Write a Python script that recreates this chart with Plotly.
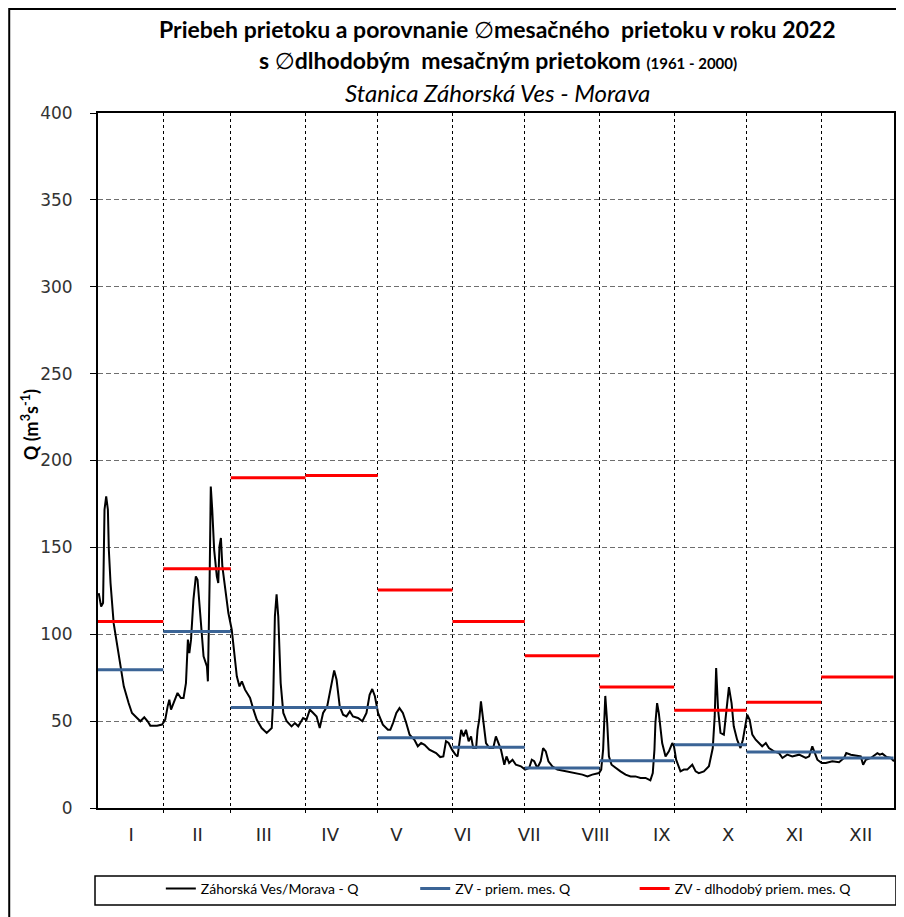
import plotly.graph_objects as go

# ---------------- data ----------------
month_labels = ["I", "II", "III", "IV", "V", "VI", "VII", "VIII", "IX", "X", "XI", "XII"]
# month boundaries in day-of-year (0 = 1 Jan 00:00)
month_edges = [0, 31, 59, 90, 120, 151, 181, 212, 243, 273, 304, 334, 365]
# 2022 monthly mean discharge (December lies outside the shown axis range)
q_month_2022 = [79.6, 101.6, 57.9, 57.9, 40.4, 34.9, 23.0, 27.2, 36.4, 32.2, 28.8, None]
# long-term (1961-2000) monthly mean discharge
q_month_longterm = [107.4, 137.7, 190.1, 191.4, 125.5, 107.4, 87.6, 69.6, 56.2, 60.8, 75.4, None]

# daily discharge readings (day-of-year, m3/s)
flow_day = [4.2, 5.2, 6.0, 6.6, 7.3, 8.0, 8.4, 9.1, 10.4, 12.5, 14.6, 16.6, 18.0, 20.1, 21.5, 23.1, 24.5,
            25.6, 28.4, 30.5, 31.8, 32.8, 33.5, 34.2, 36.0, 36.9, 38.3, 39.4, 40.4, 40.8, 41.2, 41.8, 42.5,
            43.5, 44.5, 45.2, 46.3, 47.7, 49.1, 49.5, 50.2, 50.7, 51.3, 52.1, 53.2, 53.8, 54.3, 54.9, 55.5,
            56.6, 58.0, 59.4, 60.4, 61.5, 62.6, 63.6, 64.9, 67.0, 68.4, 69.8, 71.8, 73.9, 76.0, 76.6, 77.3,
            78.0, 78.7, 79.7, 80.8, 82.2, 84.2, 85.6, 87.0, 89.0, 90.4, 91.8, 93.2, 94.6, 95.9, 97.3, 99.0,
            100.8, 101.9, 102.9, 104.2, 105.6, 107.0, 108.4, 109.7, 111.8, 113.6, 115.3, 116.6, 117.7, 118.8,
            120.1, 122.1, 124.2, 125.2, 126.3, 127.7, 129.0, 130.4, 131.8, 133.2, 135.2, 136.6, 138.0, 139.4,
            141.4, 144.2, 145.9, 147.2, 148.3, 149.4, 150.8, 152.2, 153.1, 154.6, 155.6, 156.6, 157.7, 158.7,
            159.6, 160.8, 161.4, 162.1, 162.8, 163.8, 164.9, 166.3, 167.9, 169.0, 170.1, 171.1, 172.5, 173.4,
            174.5, 175.9, 177.3, 179.4, 181.1, 182.8, 183.9, 184.9, 186.2, 187.6, 188.6, 189.7, 190.8, 192.4,
            194.5, 196.6, 199.3, 202.1, 204.9, 207.0, 209.0, 211.8, 212.7, 213.5, 214.4, 215.2, 215.9, 217.0,
            218.7, 220.7, 222.8, 224.9, 226.9, 229.0, 231.1, 233.1, 234.1, 234.8, 235.2, 235.9, 236.6, 238.0,
            239.4, 240.8, 242.2, 242.9, 243.8, 245.6, 247.0, 248.4, 250.5, 251.9, 253.2, 255.3, 257.4, 259.0,
            259.8, 260.4, 261.2, 262.2, 263.6, 264.7, 265.7, 266.8, 267.7, 269.1, 270.5, 271.5, 272.6, 273.3,
            274.3, 275.4, 276.8, 278.2, 279.5, 281.0, 282.3, 284.4, 286.5, 287.9, 289.9, 292.0, 294.8, 297.6,
            299.0, 300.3, 301.5, 302.4, 304.2, 305.9, 308.6, 311.4, 313.5, 314.4, 316.3, 318.3, 320.4, 321.4,
            322.5, 324.6, 326.4, 327.3, 328.3, 329.4, 331.1, 332.9, 334.2]
flow_q = [123.7, 116.0, 118.0, 171.7, 179.3, 171.7, 148.6, 129.5, 106.4, 87.3, 70.0, 60.4, 54.7, 51.8, 49.9,
          52.2, 49.9, 47.4, 47.4, 48.0, 50.8, 58.5, 62.3, 56.6, 63.3, 66.2, 63.3, 63.3, 71.9, 91.1, 96.9, 89.2,
          96.9, 119.9, 133.3, 131.4, 110.3, 87.3, 81.5, 72.9, 129.5, 185.0, 171.7, 148.6, 133.3, 129.5, 150.6,
          155.4, 139.0, 125.6, 112.2, 102.6, 91.1, 75.8, 70.0, 72.9, 68.1, 63.3, 56.6, 50.8, 46.0, 43.2, 46.0,
          62.3, 110.3, 123.0, 110.3, 71.9, 54.7, 49.9, 47.0, 48.9, 47.0, 51.8, 50.8, 56.6, 54.7, 52.7, 46.0,
          54.7, 58.5, 71.9, 79.2, 73.8, 58.5, 53.7, 52.7, 55.6, 52.7, 51.8, 49.9, 54.7, 65.2, 68.5, 64.3, 54.7,
          48.0, 45.0, 45.0, 48.9, 54.7, 57.5, 54.7, 48.9, 42.2, 39.3, 35.5, 37.4, 36.4, 33.6, 31.6, 29.3, 29.7,
          38.4, 37.4, 33.6, 30.7, 29.7, 45.0, 41.2, 45.0, 38.4, 41.2, 34.5, 34.5, 45.0, 50.8, 61.4, 50.8, 37.4,
          34.5, 34.5, 41.2, 37.4, 33.6, 24.9, 29.7, 25.9, 27.8, 24.9, 24.0, 22.1, 23.0, 27.8, 26.9, 23.0, 26.9,
          34.5, 32.6, 26.9, 24.0, 22.1, 21.5, 21.1, 20.1, 19.2, 18.2, 19.2, 20.1, 22.1, 33.6, 64.5, 48.9, 29.7,
          24.9, 23.0, 21.1, 19.2, 18.2, 18.2, 17.3, 17.3, 15.9, 20.1, 33.6, 48.9, 60.4, 54.7, 37.4, 29.7, 32.6,
          37.4, 35.5, 27.8, 21.1, 22.1, 22.1, 24.9, 21.1, 20.1, 21.1, 24.0, 34.5, 52.7, 80.6, 56.6, 43.2, 42.2,
          56.6, 69.6, 60.4, 47.0, 39.3, 34.5, 39.3, 48.9, 53.7, 50.8, 42.2, 39.3, 37.4, 35.5, 37.4, 34.5, 32.6,
          31.6, 28.8, 30.7, 29.7, 30.7, 28.8, 29.7, 35.5, 30.7, 27.8, 25.9, 25.9, 26.9, 26.3, 28.8, 31.6, 30.7,
          30.1, 29.7, 24.9, 27.8, 28.8, 30.7, 31.6, 30.7, 31.3, 29.3, 28.8, 26.9]

series_names = ["Záhorská Ves/Morava - Q", "ZV - priem. mes. Q", "ZV - dlhodobý priem. mes. Q"]

# ---------------- layout helpers ----------------
# the page body adds an 8 px offset, so the figure is 8 px smaller than the window
OFF = 8
W, H = 904 - OFF, 917 - OFF
L, R, T, B = 90, 8, 105, 109
PW, PH = W - L - R, H - T - B


def xp(rx):
    """window x (px) -> paper x"""
    return (rx - OFF - L) / PW


def yp(ry):
    """window y (px) -> paper y"""
    return (H - B - (ry - OFF)) / PH


def month_steps(vals):
    xs, ys = [], []
    for i, v in enumerate(vals):
        if v is None:
            continue
        xs += [month_edges[i], month_edges[i + 1], None]
        ys += [v, v, None]
    return xs, ys


FONT = "Lato"
TICKFONT = "DejaVu Sans"
DIAM = "<span style='font-family:DejaVu Sans;font-weight:normal'>∅</span>"

fig = go.Figure()
# invisible helper so the month-label axis is drawn
fig.add_trace(go.Scatter(x=[0, 11], y=[0, 0], mode="markers", marker=dict(opacity=0),
                         showlegend=False, hoverinfo="skip", xaxis="x", yaxis="y"))
fig.add_trace(go.Scatter(x=flow_day, y=flow_q, mode="lines", name=series_names[0],
                         line=dict(color="black", width=2), xaxis="x2", yaxis="y", legend="legend"))
bx, by = month_steps(q_month_2022)
fig.add_trace(go.Scatter(x=bx, y=by, mode="lines", name=series_names[1],
                         line=dict(color="#3B6496", width=3), xaxis="x2", yaxis="y", legend="legend2"))
rx, ry = month_steps(q_month_longterm)
fig.add_trace(go.Scatter(x=rx, y=ry, mode="lines", name=series_names[2],
                         line=dict(color="#FF0000", width=3), xaxis="x2", yaxis="y", legend="legend3"))

legend_common = dict(orientation="h", yanchor="middle", xanchor="left", y=yp(889),
                     bgcolor="rgba(0,0,0,0)", borderwidth=0,
                     font=dict(family=FONT, size=14, color="black"))

fig.update_layout(
    width=W, height=H,
    margin=dict(l=L, r=R, t=T, b=B, pad=0),
    paper_bgcolor="white", plot_bgcolor="white",
    showlegend=True,
    legend=dict(x=xp(161), **legend_common),
    legend2=dict(x=xp(416), **legend_common),
    legend3=dict(x=xp(636), **legend_common),
    xaxis=dict(range=[-0.5, 11.5], tickmode="array", tickvals=list(range(12)), ticktext=month_labels,
               showgrid=False, zeroline=False, showline=True, linecolor="black", linewidth=2, mirror=True,
               ticks="", tickfont=dict(family=TICKFONT, size=18, color="#262626"), ticklabelstandoff=9,
               fixedrange=True),
    xaxis2=dict(overlaying="x", anchor="y", side="bottom", range=[3.9, 334.2], tickmode="array",
                tickvals=month_edges[1:11], showticklabels=False, showgrid=True, gridcolor="black",
                gridwidth=1, griddash="3px,3px", ticks="outside", ticklen=4, tickcolor="black",
                zeroline=False, showline=False, fixedrange=True),
    yaxis=dict(range=[0, 400], tick0=0, dtick=50, showgrid=True, gridcolor="#6e6e6e", gridwidth=1,
               griddash="5px,3px", showline=True, linecolor="black", linewidth=2, mirror=True,
               ticks="outside", ticklen=6, tickcolor="black", zeroline=False,
               tickfont=dict(family=TICKFONT, size=17, color="#333333"), ticklabelstandoff=14,
               fixedrange=True),
    shapes=[
        dict(type="rect", xref="paper", yref="paper", x0=xp(9), x1=xp(930), y0=yp(940), y1=yp(9),
             line=dict(color="black", width=2), fillcolor="rgba(0,0,0,0)", layer="above"),
        dict(type="rect", xref="paper", yref="paper", x0=xp(95), x1=xp(898), y0=yp(905), y1=yp(876),
             line=dict(color="black", width=1.5), fillcolor="rgba(0,0,0,0)", layer="above"),
    ],
    annotations=[
        dict(text="<b>Priebeh prietoku a porovnanie " + DIAM + "mesačného  prietoku v roku 2022</b>",
             x=xp(499), y=yp(29), xref="paper", yref="paper", showarrow=False,
             xanchor="center", yanchor="middle", font=dict(family=FONT, size=23, color="black")),
        dict(text="<b>s " + DIAM + "dlhodobým  mesačným prietokom "
                  "<span style='font-size:15px'>(1961 - 2000)</span></b>",
             x=xp(499), y=yp(60), xref="paper", yref="paper", showarrow=False,
             xanchor="center", yanchor="middle", font=dict(family=FONT, size=23, color="black")),
        dict(text="<i>Stanica Záhorská Ves - Morava</i>",
             x=xp(499), y=yp(92), xref="paper", yref="paper", showarrow=False,
             xanchor="center", yanchor="middle", font=dict(family=FONT, size=24, color="black")),
        dict(text="<b>Q (m<sup>3</sup>s<sup>-1</sup>)</b>", textangle=-90,
             x=xp(30), y=yp(425), xref="paper", yref="paper", showarrow=False,
             xanchor="center", yanchor="middle", font=dict(family=FONT, size=18, color="black")),
    ],
)

fig.write_html("out.html")
